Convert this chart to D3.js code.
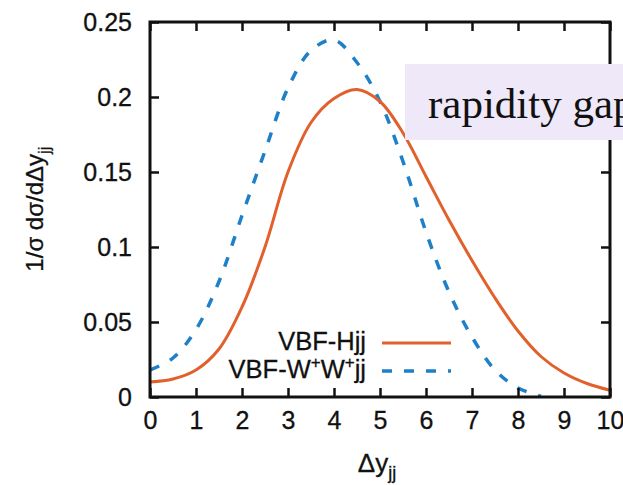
<!DOCTYPE html>
<html>
<head>
<meta charset="utf-8">
<script src="https://cdn.jsdelivr.net/npm/d3@7"></script>
<style>
  html, body { margin: 0; padding: 0; background: #fff; }
  svg { display: block; }
  text { font-family: "Liberation Sans", Arial, sans-serif; fill: #111; }
</style>
</head>
<body>
<div id="chart"></div>
<script>
// values
var xValues = [0, 0.5, 1, 1.5, 2, 2.5, 3, 3.5, 4, 4.5, 5, 5.5, 6, 6.5, 7, 7.5, 8, 8.5, 9, 9.5, 10];
var hjj = [0.010, 0.012, 0.018, 0.032, 0.060, 0.100, 0.150, 0.183, 0.199, 0.205, 0.197, 0.176, 0.147, 0.118, 0.091, 0.066, 0.044, 0.027, 0.016, 0.009, 0.0045];
var wwjj = [0.018, 0.026, 0.045, 0.077, 0.121, 0.164, 0.206, 0.231, 0.238, 0.223, 0.197, 0.157, 0.110, 0.070, 0.040, 0.018, 0.006, 0.0005];
var xTicks = [0, 1, 2, 3, 4, 5, 6, 7, 8, 9, 10];
var yTicks = [0, 0.05, 0.1, 0.15, 0.2, 0.25];
var yTickLabels = ['0', '0.05', '0.1', '0.15', '0.2', '0.25'];
var seriesNames = ['VBF-Hjj', 'VBF-W+W+jj'];

var Chart = (function(){

	var width = 623, height = 485;
	var pLeft = 150, pRight = 610, pTop = 22, pBottom = 397;
	var red = '#e2602b', blue = '#1e80c8';
	var font = '"Liberation Sans", Arial, sans-serif';

	var draw = function(){
		var svg = d3.select('#chart').append('svg')
			.attr('width', width)
			.attr('height', height);

		var x = d3.scaleLinear().domain([0, 10]).range([pLeft, pRight]);
		var y = d3.scaleLinear().domain([0, 0.25]).range([pBottom, pTop]);

		var line = function(vals){
			return d3.line()
				.x(function(d, i){ return x(xValues[i]); })
				.y(function(d){ return y(d); })
				.curve(d3.curveCatmullRom.alpha(0.5))(vals);
		};

		// curves
		svg.append('path')
			.attr('d', line(wwjj))
			.attr('fill', 'none')
			.attr('stroke', blue)
			.attr('stroke-width', 3.5)
			.attr('stroke-dasharray', '10,12');
		svg.append('path')
			.attr('d', line(hjj))
			.attr('fill', 'none')
			.attr('stroke', red)
			.attr('stroke-width', 3);

		// ticks on all four sides, pointing inward
		var tickLen = 9;
		var tickStyle = function(sel){
			sel.selectAll('.domain').remove();
			sel.selectAll('.tick line').attr('stroke', '#111').attr('stroke-width', 2.5);
			sel.selectAll('.tick text').attr('font-size', 25).attr('fill', '#111')
				.attr('stroke', '#111').attr('stroke-width', 0.3)
				.style('font-family', font);
		};
		svg.append('g').attr('transform', 'translate(0,' + pBottom + ')')
			.call(d3.axisBottom(x).tickValues(xTicks).tickSize(-tickLen).tickPadding(14).tickFormat(d3.format('d')))
			.call(tickStyle);
		svg.append('g').attr('transform', 'translate(0,' + pTop + ')')
			.call(d3.axisTop(x).tickValues(xTicks).tickSize(-tickLen).tickFormat(''))
			.call(tickStyle);
		svg.append('g').attr('transform', 'translate(' + pLeft + ',0)')
			.call(d3.axisLeft(y).tickValues(yTicks).tickSize(-tickLen).tickPadding(18)
				.tickFormat(function(d, i){ return yTickLabels[i]; }))
			.call(tickStyle);
		svg.append('g').attr('transform', 'translate(' + pRight + ',0)')
			.call(d3.axisRight(y).tickValues(yTicks).tickSize(-tickLen).tickFormat(''))
			.call(tickStyle);

		// frame
		svg.append('rect')
			.attr('x', pLeft).attr('y', pTop)
			.attr('width', pRight - pLeft).attr('height', pBottom - pTop)
			.attr('fill', 'none')
			.attr('stroke', '#111')
			.attr('stroke-width', 3);

		// legend
		var legY = [350, 378];
		var legend = svg.selectAll('.leg').data(seriesNames).enter().append('g').attr('class', 'leg');
		legend.append('text')
			.attr('x', 366)
			.attr('y', function(d, i){ return legY[i]; })
			.attr('text-anchor', 'end')
			.attr('font-size', 25.5)
			.attr('stroke', '#111').attr('stroke-width', 0.3)
			.each(function(d){
				var t = d3.select(this);
				if(d === 'VBF-Hjj'){ t.text(d); return; }
				t.append('tspan').text('VBF-W');
				t.append('tspan').attr('dy', -10).attr('font-size', 17).text('+');
				t.append('tspan').attr('dy', 10).text('W');
				t.append('tspan').attr('dy', -10).attr('font-size', 17).text('+');
				t.append('tspan').attr('dy', 10).text('jj');
			});
		legend.append('line')
			.attr('x1', 382).attr('x2', 451)
			.attr('y1', function(d, i){ return legY[i] - 7; })
			.attr('y2', function(d, i){ return legY[i] - 7; })
			.attr('stroke', function(d, i){ return i === 0 ? red : blue; })
			.attr('stroke-width', function(d, i){ return i === 0 ? 3 : 3.5; })
			.attr('stroke-dasharray', function(d, i){ return i === 0 ? null : '10,12'; });

		// axis titles
		var xt = svg.append('text')
			.attr('x', 377).attr('y', 472)
			.attr('text-anchor', 'middle')
			.attr('font-size', 26)
			.attr('stroke', '#111').attr('stroke-width', 0.3);
		xt.append('tspan').text('Δy');
		xt.append('tspan').attr('dy', 7).attr('font-size', 18).text('jj');

		var yt = svg.append('text')
			.attr('transform', 'translate(43,209) rotate(-90)')
			.attr('text-anchor', 'middle')
			.attr('font-size', 24)
			.attr('stroke', '#111').attr('stroke-width', 0.3);
		yt.append('tspan').text('1/σ dσ/dΔy');
		yt.append('tspan').attr('dy', 7).attr('font-size', 17).text('jj');

		// overlay label box
		svg.append('rect')
			.attr('x', 405).attr('y', 64)
			.attr('width', width - 405).attr('height', 76)
			.attr('fill', '#efe8f8');
		svg.append('text')
			.attr('x', 428).attr('y', 118)
			.attr('font-size', 43)
			.style('font-family', '"Liberation Serif", "Times New Roman", serif')
			.text('rapidity gap');
	};

	return { draw: draw };
})();

Chart.draw();
</script>
</body>
</html>
